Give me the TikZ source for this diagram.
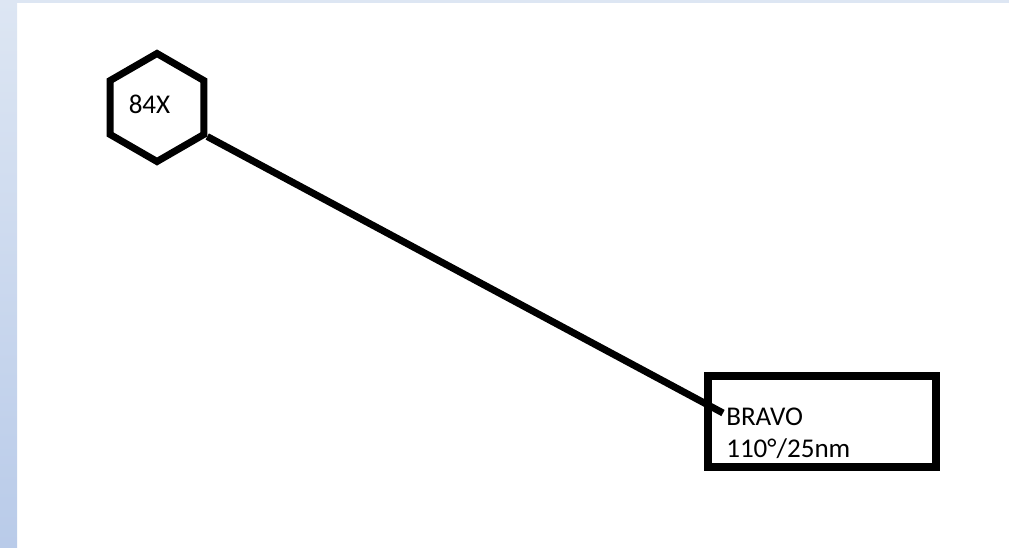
\documentclass[tikz,border=0pt]{standalone}
\usepackage{fontspec}
\setmainfont{Carlito}
\usetikzlibrary{shapes.geometric, positioning}

\definecolor{stripetop}{RGB}{221,230,243}
\definecolor{stripebot}{RGB}{185,203,233}

\begin{document}
\begin{tikzpicture}[
    x=0.75pt, y=-0.75pt,
    hexnode/.style={regular polygon, regular polygon sides=6, shape border rotate=30, draw, line width=5.25pt, minimum size=81pt, inner sep=0pt},
    boxnode/.style={rectangle, draw, line width=6pt, minimum width=170.6pt, minimum height=68.2pt, inner sep=0pt},
    txt/.style={inner sep=0pt, font=\fontsize{20.3}{23.3}\selectfont, align=left},
    link/.style={line width=5.25pt}
]
\useasboundingbox (0,0) rectangle (1009,547);

% Window background
\fill[stripetop] (0,0) rectangle (1009,3);
\shade[top color=stripetop, bottom color=stripebot] (0,0) rectangle (17,547);

% Waypoint hexagon
\node[hexnode] (hex) at (157,107.5) {};
\node[txt, anchor=base] (hexlabel) at (149.5,113) {84X};

% Target box
\node[boxnode] (bravo) at (822,421.5) {};
\node[txt, anchor=base west] (bravotext) at (726,457) {BRAVO\\110°/25nm};
\coordinate (tip) at (723,413);

% Track line
\draw[link] (hex.-30) -- (tip);

\end{tikzpicture}
\end{document}
